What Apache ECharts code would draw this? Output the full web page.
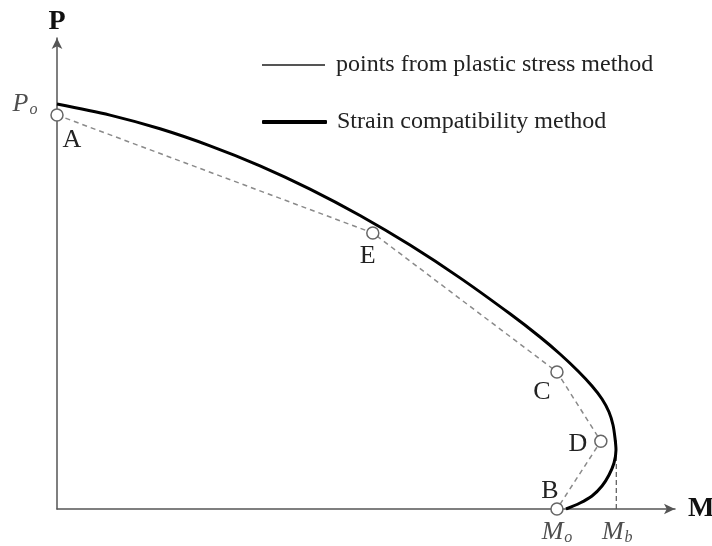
<!DOCTYPE html>
<html>
<head>
<meta charset="utf-8">
<script src="https://cdn.jsdelivr.net/npm/echarts@6/dist/echarts.min.js"></script>
<style>html,body{margin:0;padding:0;background:#fff;}#c{width:712px;height:546px;}</style>
</head>
<body>
<div id="c"></div>
<script>
// Strain compatibility curve (M, P) in axis units (0..100 up to the arrow tips)
const curveM = [0, 8.58, 16.67, 24.76, 32.85, 40.94, 49.03, 57.12, 65.21, 73.30, 78.16, 81.39, 84.30, 86.57, 88.19, 89.32, 89.97, 90.29, 90.45, 90.13, 89.32, 88.19, 86.57, 84.63, 82.36];
const curveP = [85.99, 83.63, 80.72, 77.11, 72.87, 67.92, 62.31, 56.03, 49.07, 41.44, 36.52, 32.91, 29.30, 26.11, 23.35, 20.59, 17.83, 15.07, 12.53, 9.77, 7.22, 4.88, 2.76, 1.27, 0];
// Points from plastic stress method
const pointNames = ['A', 'E', 'C', 'D', 'B'];
const pointM = [0, 51.1, 80.9, 88.0, 80.9];
const pointP = [83.65, 58.6, 29.1, 14.4, 0];
// Reference values
const Po = 86.0;
const Mo = 80.9;
const Mb = 90.5;
const MbTop = 14.6;

const seriesNames = ['points from plastic stress method', 'Strain compatibility method'];

const serif = 'Liberation Serif, Times New Roman, serif';
const labelOffsets = {A: [15, 25], E: [-5, 23], C: [-15, 20], D: [-23, 3], B: [-7, -18]};

const chart = echarts.init(document.getElementById('c'), null, {renderer: 'canvas'});

const option = {
  animation: false,
  backgroundColor: '#fff',
  grid: {left: 57, right: 37, top: 38, bottom: 37, containLabel: false, outerBoundsMode: 'none'},
  xAxis: {
    type: 'value', min: 0, max: 100,
    name: 'M', nameLocation: 'end', nameGap: 13,
    nameTextStyle: {fontFamily: serif, fontWeight: 'bold', fontSize: 28, color: '#111', verticalAlign: 'middle', padding: [12, 0, 0, 0]},
    axisLine: {show: true, onZero: false, symbol: ['none', 'arrow'], symbolSize: [8, 11], lineStyle: {color: '#555', width: 1.5}},
    axisTick: {show: false}, axisLabel: {show: false}, splitLine: {show: false}
  },
  yAxis: {
    type: 'value', min: 0, max: 100,
    name: 'P', nameLocation: 'end', nameGap: 2,
    nameTextStyle: {fontFamily: serif, fontWeight: 'bold', fontSize: 28, color: '#111', align: 'center'},
    axisLine: {show: true, onZero: false, symbol: ['none', 'arrow'], symbolSize: [8, 11], lineStyle: {color: '#555', width: 1.5}},
    axisTick: {show: false}, axisLabel: {show: false}, splitLine: {show: false}
  },
  legend: [
    {
      data: [seriesNames[0]], left: 257, top: 48, orient: 'vertical', selectedMode: false,
      icon: 'rect', itemWidth: 63, itemHeight: 2,
      itemStyle: {color: '#555', borderWidth: 0},
      textStyle: {fontFamily: serif, fontSize: 24, color: '#222', padding: [0, 0, 0, 6]}
    },
    {
      data: [seriesNames[1]], left: 257, top: 105, orient: 'vertical', selectedMode: false,
      icon: 'roundRect', itemWidth: 65, itemHeight: 4,
      itemStyle: {color: '#000', borderWidth: 0},
      textStyle: {fontFamily: serif, fontSize: 24, color: '#222', padding: [0, 0, 0, 5]}
    }
  ],
  series: [
    {
      name: seriesNames[1], type: 'line', smooth: 0.3, showSymbol: false, symbol: 'none',
      silent: true, z: 3,
      lineStyle: {color: '#000', width: 3},
      data: curveM.map((m, i) => [m, curveP[i]])
    },
    {
      name: 'Mb line', type: 'line', showSymbol: false, symbol: 'none', silent: true, z: 2,
      lineStyle: {color: '#555', width: 1.2, type: [5, 3]},
      data: [[Mb, 0], [Mb, MbTop]]
    },
    {
      name: seriesNames[0], type: 'line', smooth: false, symbol: 'none', showSymbol: false, z: 4,
      silent: true,
      lineStyle: {color: '#8a8a8a', width: 1.5, type: [5, 4]},
      itemStyle: {color: '#8a8a8a'},
      data: pointM.map((m, i) => [m, pointP[i]])
    },
    {
      name: 'pointMarks', type: 'scatter', symbol: 'circle', symbolSize: 12, z: 5, silent: true,
      itemStyle: {color: '#fff', borderColor: '#666', borderWidth: 1.5, opacity: 1},
      label: {
        show: true, position: 'inside', fontFamily: serif, fontSize: 26, color: '#222',
        align: 'center', verticalAlign: 'middle',
        formatter: p => pointNames[p.dataIndex]
      },
      data: pointM.map((m, i) => ({value: [m, pointP[i]], label: {offset: labelOffsets[pointNames[i]]}}))
    },
    {
      name: 'refLabels', type: 'scatter', symbolSize: 0, silent: true, z: 5,
      label: {
        show: true, position: 'inside', align: 'center', verticalAlign: 'middle', color: '#222',
        rich: {
          m: {fontFamily: serif, fontStyle: 'italic', fontSize: 26, color: '#222'},
          s: {fontFamily: serif, fontStyle: 'italic', fontSize: 16, color: '#222', padding: [12, 0, 0, 1]}
        }
      },
      data: [
        {value: [0, Po], label: {formatter: '{m|P}{s|o}', offset: [-32, 0]}},
        {value: [Mo, 0], label: {formatter: '{m|M}{s|o}', offset: [0, 23]}},
        {value: [Mb, 0], label: {formatter: '{m|M}{s|b}', offset: [1, 23]}}
      ]
    }
  ]
};
chart.setOption(option);
</script>
</body>
</html>
